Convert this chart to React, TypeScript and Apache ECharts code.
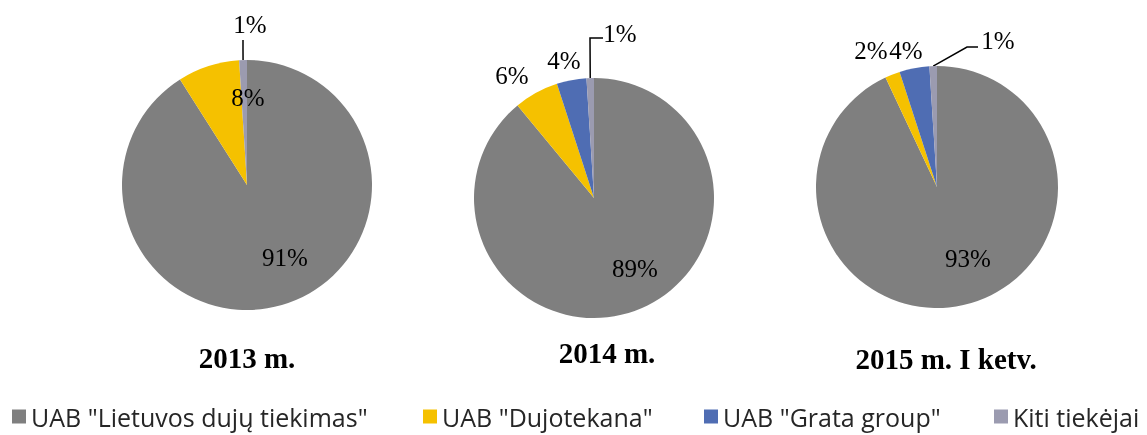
import React, { useEffect, useRef } from "react";
import * as echarts from "echarts";

// ---- data ----
const categories = [
  'UAB "Lietuvos dujų tiekimas"',
  'UAB "Dujotekana"',
  'UAB "Grata group"',
  "Kiti tiekėjai",
];
const periods = ["2013 m.", "2014 m.", "2015 m. I ketv."];
const values2013 = [91, 8, 0, 1];
const values2014 = [89, 6, 4, 1];
const values2015 = [93, 2, 4, 1];

// ---- style ----
const colors = ["#7F7F7F", "#F5C100", "#4F6DB3", "#9B9BB0"];
const pieCenters = [
  [247, 185],
  [594, 198],
  [937, 187],
];
const pieRadii = [125, 120, 121];
// label centre offsets from the pie centre (px)
const labelOffsets = [
  [[38, 72], [1, -88], [0, 0], [3, -161]],
  [[41, 70], [-82, -123], [-30, -138], [26, -165]],
  [[31, 71], [-66, -137], [-31, -137], [61, -147]],
];
// leader-line bend points (relative to pie centre), index of slice that has one
const leaderIndex = 3;
const leaderBends = [
  [[-4, -135], [-4, -145]],
  [[-4, -160], [9, -160]],
  [[30, -140], [41, -140]],
];
const titlePos = [
  [247, 343],
  [607, 338],
  [946, 344],
];
const legendLeft = [12, 423, 704, 994];
const SERIF = '"Liberation Serif", "Times New Roman", serif';
const SANS = '"Open Sans", Lato, sans-serif';

export default function App() {
  const ref = useRef<HTMLDivElement>(null);
  useEffect(() => {
    if (!ref.current) return;
    const chart = echarts.init(ref.current, undefined, { renderer: "svg" });
    const allValues = [values2013, values2014, values2015];

    const series = allValues.map((vals, s) => {
      const total = vals.reduce((a, b) => a + b, 0);
      const [cx, cy] = pieCenters[s];
      const r = pieRadii[s];
      return {
        type: "pie",
        center: [cx, cy],
        radius: r,
        startAngle: 90,
        clockwise: true,
        avoidLabelOverlap: false,
        emphasis: { disabled: true },
        itemStyle: { borderWidth: 0 },
        label: {
          show: true,
          position: "inside",
          formatter: "{c}%",
          fontFamily: SERIF,
          fontSize: 25,
          color: "#000",
        },
        labelLine: { show: false, lineStyle: { color: "#000", width: 1.5 } },
        data: vals.map((v, i) => ({
          name: categories[i],
          value: v,
          itemStyle: { color: colors[i] },
          label: {
            show: v > 0,
            position: i === leaderIndex ? "outside" : "inside",
          },
          labelLine: { show: i === leaderIndex, length: 10, length2: 10 },
        })),
        labelLayout: (p: any) => {
          const i = p.dataIndex;
          const off = labelOffsets[s][i];
          const res: any = {
            x: cx + off[0],
            y: cy + off[1],
            align: "center",
            verticalAlign: "middle",
          };
          if (i === leaderIndex) {
            let before = 0;
            for (let k = 0; k < i; k++) before += vals[k];
            const mid = ((before + vals[i] / 2) / total) * Math.PI * 2;
            const start = [cx + r * Math.sin(mid), cy - r * Math.cos(mid)];
            res.labelLinePoints = [
              start,
              ...leaderBends[s].map((b) => [cx + b[0], cy + b[1]]),
            ];
          }
          return res;
        },
      };
    });

    const option: any = {
      animation: false,
      title: periods.map((t, i) => ({
        text: t,
        left: titlePos[i][0],
        top: titlePos[i][1],
        textAlign: "center",
        padding: 0,
        textStyle: {
          fontFamily: SERIF,
          fontWeight: "bold",
          fontSize: 29,
          color: "#000",
        },
      })),
      legend: categories.map((c, i) => ({
        data: [c],
        left: legendLeft[i],
        top: 404,
        padding: 0,
        icon: "rect",
        itemWidth: 14,
        itemHeight: 14,
        itemGap: 6,
        selectedMode: false,
        textStyle: { fontFamily: SANS, fontSize: 25, color: "#262626" },
      })),
      series,
    };
    chart.setOption(option);
    return () => chart.dispose();
  }, []);
  return (
    <div
      ref={ref}
      style={{ position: "fixed", left: 0, top: 0, width: 1147, height: 435 }}
    />
  );
}
